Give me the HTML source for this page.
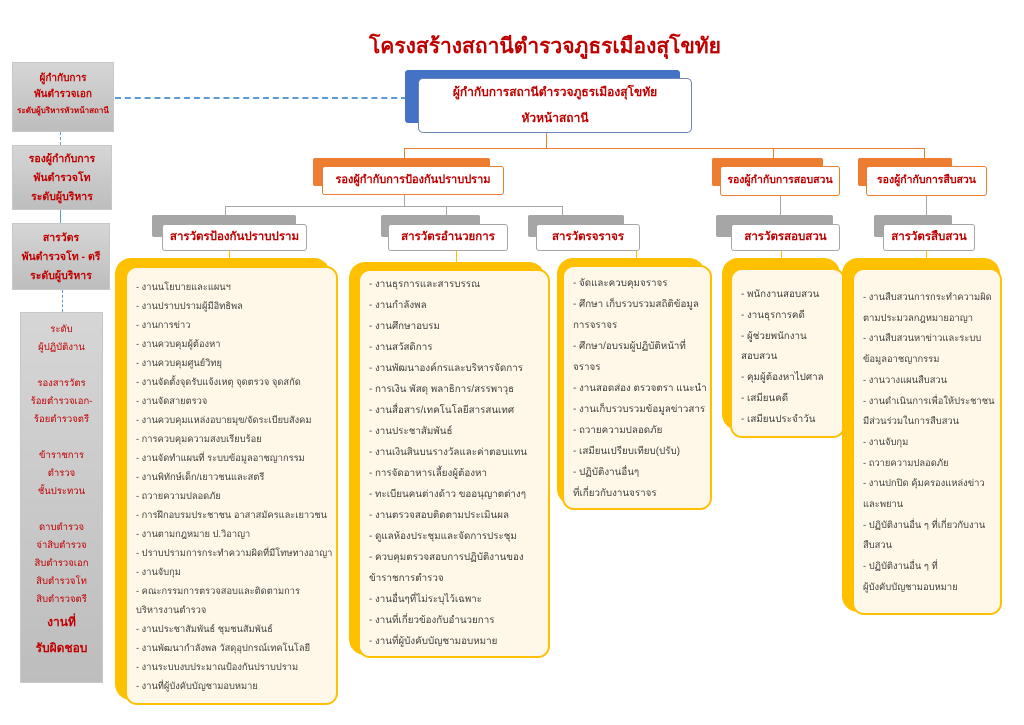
<!DOCTYPE html>
<html><head><meta charset="utf-8"><style>
*{margin:0;padding:0;box-sizing:border-box}
body{width:1024px;height:725px;background:#fff;position:relative;overflow:hidden;font-family:"Liberation Sans","DejaVu Sans",sans-serif}
.a{position:absolute}
.red{color:#c00000;font-weight:bold}
.gray{background:linear-gradient(#d6d6d6,#bdbdbd);border:1px solid #c8c8c8;text-align:center;color:#c00000;font-weight:bold}
.ln{position:absolute;background:#ed7d31}
.gl{position:absolute;background:#a6a6a6}
.yb{position:absolute;background:#ffc000;border-radius:16px}
.cf{position:absolute;background:#fff8e8;border:2px solid #ffc000;border-radius:12px;font-size:9.8px;color:#404040;padding:14px 6px 0 9px;white-space:nowrap;overflow:hidden}
.sb{position:absolute;background:#a6a6a6;border-radius:2px}
.sf{position:absolute;background:#fff;border:1.5px solid #a6a6a6;border-radius:3px;color:#c00000;font-weight:bold;font-size:11.5px;text-align:center;line-height:25px;white-space:nowrap}
.ob{position:absolute;background:#ed7d31;border-radius:2px}
.of{position:absolute;background:#fff;border:1.5px solid #ed7d31;border-radius:3px;color:#c00000;font-weight:bold;font-size:11px;text-align:center;line-height:27px;white-space:nowrap}
</style></head><body>
<div class="a red" style="left:0;width:1090px;top:30px;text-align:center;font-size:21px;color:#c00000">โครงสร้างสถานีตำรวจภูธรเมืองสุโขทัย</div>

<div class="a gray" style="left:12px;top:62px;width:102px;height:70px;font-size:10px;line-height:16px;padding-top:8px">ผู้กำกับการ<br>พันตำรวจเอก<br><span style="font-size:8px">ระดับผู้บริหารหัวหน้าสถานี</span></div>
<div class="a" style="left:60px;top:132px;height:13px;border-left:1px dashed #5b9bd5"></div>
<div class="a gray" style="left:12px;top:145px;width:100px;height:65px;font-size:10.5px;line-height:19px;padding-top:4px">รองผู้กำกับการ<br>พันตำรวจโท<br>ระดับผู้บริหาร</div>
<div class="a" style="left:60px;top:210px;height:13px;border-left:1px solid #5b9bd5"></div>
<div class="a gray" style="left:12px;top:223px;width:98px;height:67px;font-size:10.5px;line-height:19px;padding-top:5px">สารวัตร<br>พันตำรวจโท - ตรี<br>ระดับผู้บริหาร</div>
<div class="a" style="left:62px;top:290px;height:22px;border-left:1px dashed #5b9bd5"></div>
<div class="a gray" style="left:20px;top:312px;width:83px;height:371px;font-size:9.5px;font-weight:normal;line-height:18px;padding-top:8px">ระดับ<br>ผู้ปฏิบัติงาน<br><br>รองสารวัตร<br>ร้อยตำรวจเอก-<br>ร้อยตำรวจตรี<br><br>ข้าราชการ<br>ตำรวจ<br>ชั้นประทวน<br><br>ดาบตำรวจ<br>จ่าสิบตำรวจ<br>สิบตำรวจเอก<br>สิบตำรวจโท<br>สิบตำรวจตรี<br><b style="font-size:12px;line-height:26px">งานที่<br>รับผิดชอบ</b></div>

<div class="a" style="left:115px;top:97px;width:292px;border-top:2px dashed #5b9bd5"></div>

<div class="a" style="left:405px;top:70px;width:275px;height:53px;background:#4472c4;border-radius:3px"></div>
<div class="a" style="left:418px;top:78px;width:274px;height:55px;background:#fff;border:1.5px solid #6d86b8;border-radius:5px;text-align:center;color:#c00000;font-weight:bold;font-size:12px;line-height:26px">ผู้กำกับการสถานีตำรวจภูธรเมืองสุโขทัย<br>หัวหน้าสถานี</div>

<div class="ln" style="left:546px;top:133px;width:1px;height:15px"></div>
<div class="ln" style="left:404px;top:148px;width:521px;height:1px"></div>
<div class="ln" style="left:404px;top:148px;width:1px;height:18px"></div>
<div class="ln" style="left:773px;top:148px;width:1px;height:18px"></div>
<div class="ln" style="left:924px;top:148px;width:1px;height:18px"></div>

<div class="ob" style="left:313px;top:158px;width:177px;height:28px"></div>
<div class="of" style="left:322px;top:166px;width:182px;height:29px">รองผู้กำกับการป้องกันปราบปราม</div>
<div class="ob" style="left:712px;top:158px;width:111px;height:28px"></div>
<div class="of" style="left:720px;top:166px;width:120px;height:30px;font-size:10.5px">รองผู้กำกับการสอบสวน</div>
<div class="ob" style="left:858px;top:158px;width:94px;height:28px"></div>
<div class="of" style="left:866px;top:166px;width:121px;height:30px;font-size:10.5px">รองผู้กำกับการสืบสวน</div>

<div class="gl" style="left:404px;top:195px;width:1px;height:12px"></div>
<div class="gl" style="left:225px;top:206px;width:338px;height:1px"></div>
<div class="gl" style="left:225px;top:206px;width:1px;height:10px"></div>
<div class="gl" style="left:446px;top:206px;width:1px;height:10px"></div>
<div class="gl" style="left:562px;top:206px;width:1px;height:10px"></div>
<div class="gl" style="left:780px;top:196px;width:1px;height:20px"></div>
<div class="gl" style="left:926px;top:196px;width:1px;height:20px"></div>

<div class="sb" style="left:152px;top:215px;width:144px;height:22px"></div>
<div class="sf" style="left:162px;top:224px;width:145px;height:27px">สารวัตรป้องกันปราบปราม</div>
<div class="sb" style="left:381px;top:215px;width:99px;height:22px"></div>
<div class="sf" style="left:388px;top:224px;width:120px;height:27px">สารวัตรอำนวยการ</div>
<div class="sb" style="left:528px;top:215px;width:96px;height:22px"></div>
<div class="sf" style="left:536px;top:224px;width:104px;height:27px">สารวัตรจราจร</div>
<div class="sb" style="left:716px;top:215px;width:117px;height:22px"></div>
<div class="sf" style="left:731px;top:224px;width:109px;height:27px">สารวัตรสอบสวน</div>
<div class="sb" style="left:874px;top:215px;width:78px;height:22px"></div>
<div class="sf" style="left:883px;top:224px;width:92px;height:27px">สารวัตรสืบสวน</div>

<div class="a" style="left:229px;top:251px;width:1px;height:8px;background:#ffc000"></div>
<div class="a" style="left:456px;top:251px;width:1px;height:12px;background:#ffc000"></div>
<div class="a" style="left:636px;top:251px;width:1px;height:8px;background:#ffc000"></div>
<div class="a" style="left:781px;top:251px;width:1px;height:8px;background:#ffc000"></div>
<div class="a" style="left:926px;top:251px;width:1px;height:8px;background:#ffc000"></div>

<div class="yb" style="left:115px;top:258px;width:215px;height:442px"></div>
<div class="cf" style="left:125px;top:266px;width:213px;height:439px;line-height:19px;padding-top:10px;font-size:9.3px">- งานนโยบายและแผนฯ<br>- งานปราบปรามผู้มีอิทธิพล<br>- งานการข่าว<br>- งานควบคุมผู้ต้องหา<br>- งานควบคุมศูนย์วิทยุ<br>- งานจัดตั้งจุดรับแจ้งเหตุ จุดตรวจ จุดสกัด<br>- งานจัดสายตรวจ<br>- งานควบคุมแหล่งอบายมุข/จัดระเบียบสังคม<br>- การควบคุมความสงบเรียบร้อย<br>- งานจัดทำแผนที่ ระบบข้อมูลอาชญากรรม<br>- งานพิทักษ์เด็ก/เยาวชนและสตรี<br>- ถวายความปลอดภัย<br>- การฝึกอบรมประชาชน อาสาสมัครและเยาวชน<br>- งานตามกฎหมาย ป.วิอาญา<br>- ปราบปรามการกระทำความผิดที่มีโทษทางอาญา<br>- งานจับกุม<br>- คณะกรรมการตรวจสอบและติดตามการ<br>บริหารงานตำรวจ<br>- งานประชาสัมพันธ์ ชุมชนสัมพันธ์<br>- งานพัฒนากำลังพล วัสดุอุปกรณ์เทคโนโลยี<br>- งานระบบงบประมาณป้องกันปราบปราม<br>- งานที่ผู้บังคับบัญชามอบหมาย</div>

<div class="yb" style="left:349px;top:262px;width:196px;height:393px"></div>
<div class="cf" style="left:358px;top:269px;width:192px;height:389px;line-height:21px;padding-top:3px">- งานธุรการและสารบรรณ<br>- งานกำลังพล<br>- งานศึกษาอบรม<br>- งานสวัสดิการ<br>- งานพัฒนาองค์กรและบริหารจัดการ<br>- การเงิน พัสดุ พลาธิการ/สรรพาวุธ<br>- งานสื่อสาร/เทคโนโลยีสารสนเทศ<br>- งานประชาสัมพันธ์<br>- งานเงินสินบนรางวัลและค่าตอบแทน<br>- การจัดอาหารเลี้ยงผู้ต้องหา<br>- ทะเบียนคนต่างด้าว ขออนุญาตต่างๆ<br>- งานตรวจสอบติดตามประเมินผล<br>- ดูแลห้องประชุมและจัดการประชุม<br>- ควบคุมตรวจสอบการปฏิบัติงานของ<br>ข้าราชการตำรวจ<br>- งานอื่นๆที่ไม่ระบุไว้เฉพาะ<br>- งานที่เกี่ยวข้องกับอำนวยการ<br>- งานที่ผู้บังคับบัญชามอบหมาย</div>

<div class="yb" style="left:557px;top:258px;width:148px;height:247px"></div>
<div class="cf" style="left:562px;top:265px;width:150px;height:245px;line-height:21px;padding-top:6px">- จัดและควบคุมจราจร<br>- ศึกษา เก็บรวบรวมสถิติข้อมูล<br>การจราจร<br>- ศึกษา/อบรมผู้ปฏิบัติหน้าที่<br>จราจร<br>- งานสอดส่อง ตรวจตรา แนะนำ<br>- งานเก็บรวบรวมข้อมูลข่าวสาร<br>- ถวายความปลอดภัย<br>- เสมียนเปรียบเทียบ(ปรับ)<br>- ปฏิบัติงานอื่นๆ<br>ที่เกี่ยวกับงานจราจร</div>

<div class="yb" style="left:722px;top:258px;width:118px;height:172px"></div>
<div class="cf" style="left:730px;top:268px;width:115px;height:170px;line-height:20.8px;padding-top:15px">- พนักงานสอบสวน<br>- งานธุรการคดี<br>- ผู้ช่วยพนักงาน<br>สอบสวน<br>- คุมผู้ต้องหาไปศาล<br>- เสมียนคดี<br>- เสมียนประจำวัน</div>

<div class="yb" style="left:842px;top:258px;width:158px;height:354px"></div>
<div class="cf" style="left:852px;top:268px;width:150px;height:347px;line-height:20.7px;padding-top:17px;font-size:9.4px">- งานสืบสวนการกระทำความผิด<br>ตามประมวลกฎหมายอาญา<br>- งานสืบสวนหาข่าวและระบบ<br>ข้อมูลอาชญากรรม<br>- งานวางแผนสืบสวน<br>- งานดำเนินการเพื่อให้ประชาชน<br>มีส่วนร่วมในการสืบสวน<br>- งานจับกุม<br>- ถวายความปลอดภัย<br>- งานปกปิด คุ้มครองแหล่งข่าว<br>และพยาน<br>- ปฏิบัติงานอื่น ๆ ที่เกี่ยวกับงาน<br>สืบสวน<br>- ปฏิบัติงานอื่น ๆ ที่<br>ผู้บังคับบัญชามอบหมาย</div>
</body></html>
